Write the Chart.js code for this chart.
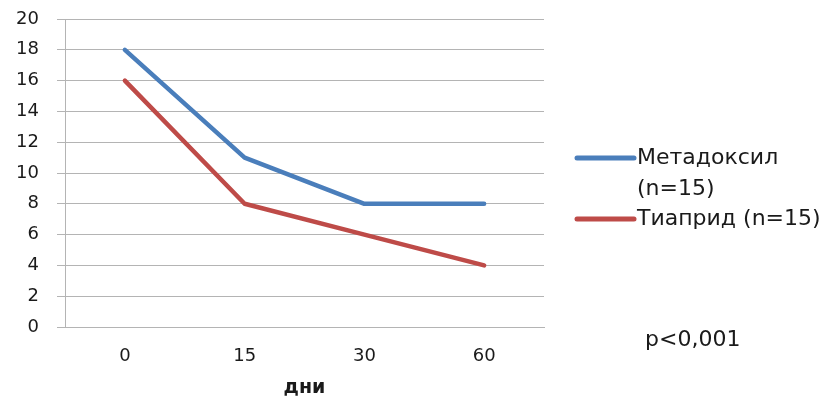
<!DOCTYPE html>
<html>
<head>
<meta charset="utf-8">
<script src="https://cdn.jsdelivr.net/npm/chart.js@4.4.1/dist/chart.umd.min.js"></script>
<style>
  html, body { margin: 0; padding: 0; background: #fff; }
  #wrap { width: 823px; height: 399px; position: relative; }
</style>
</head>
<body>
<div id="wrap"><canvas id="c" width="823" height="399"></canvas></div>
<script>
// Days of observation
const categories = ['0', '15', '30', '60'];
// Score per visit for each treatment group
const metadoxilValues = [18, 11, 8, 8];
const tiapridValues = [16, 8, 6, 4];
const seriesLabels = [['Метадоксил', '(n=15)'], ['Тиаприд (n=15)']];
const yTicks = { min: 0, max: 20, step: 2 };
const xTitle = 'дни';
const pNote = 'p<0,001';

const FONT = '"DejaVu Sans", "Open Sans", sans-serif';
const TEXT = '#1a1a1a';
const GRID = '#b4b4b4';

// Legend on the right plus the significance note, drawn from the datasets
const sideLegend = {
  id: 'sideLegend',
  afterDraw(chart) {
    const ctx = chart.ctx;
    const rows = [158, 219];
    ctx.save();
    ctx.font = '22px ' + FONT;
    ctx.fillStyle = TEXT;
    ctx.textBaseline = 'middle';
    chart.data.datasets.forEach((ds, i) => {
      const y = rows[i];
      ctx.strokeStyle = ds.borderColor;
      ctx.lineWidth = 5;
      ctx.lineCap = 'round';
      ctx.beginPath();
      ctx.moveTo(577, y);
      ctx.lineTo(634, y);
      ctx.stroke();
      const lines = Array.isArray(ds.label) ? ds.label : [ds.label];
      lines.forEach((t, k) => ctx.fillText(t, 637, y + k * 31));
    });
    ctx.fillText(pNote, 645, 340);
    ctx.restore();
  }
};

new Chart(document.getElementById('c'), {
  type: 'line',
  data: {
    labels: categories,
    datasets: [
      { label: seriesLabels[0], data: metadoxilValues, borderColor: '#4a7ebb', backgroundColor: '#4a7ebb' },
      { label: seriesLabels[1], data: tiapridValues, borderColor: '#be4b48', backgroundColor: '#be4b48' }
    ]
  },
  options: {
    responsive: false,
    animation: false,
    events: [],
    layout: { padding: { top: 19, right: 279, bottom: 0, left: 0 } },
    elements: {
      line: { borderWidth: 4.5, tension: 0, borderCapStyle: 'round', borderJoinStyle: 'round' },
      point: { radius: 0 }
    },
    plugins: { legend: { display: false }, tooltip: { enabled: false } },
    scales: {
      x: {
        offset: true,
        grid: { display: false },
        border: { display: true, color: GRID, width: 1 },
        ticks: { color: TEXT, font: { family: FONT, size: 18 }, padding: 11, maxRotation: 0 },
        title: { display: true, text: xTitle, color: TEXT, font: { family: FONT, size: 19, weight: 'bold' }, padding: { top: 0, bottom: 0 } },
        afterFit(s) { s.height = 72; s.paddingLeft = 0; s.paddingRight = 0; }
      },
      y: {
        min: yTicks.min, max: yTicks.max,
        grid: { color: GRID, lineWidth: 1, tickLength: 8 },
        border: { display: true, color: GRID, width: 1 },
        ticks: { stepSize: yTicks.step, color: TEXT, font: { family: FONT, size: 18 }, padding: 18 },
        afterFit(s) { s.width = 65; s.paddingTop = 0; s.paddingBottom = 0; }
      }
    }
  },
  plugins: [sideLegend]
});
</script>
</body>
</html>
